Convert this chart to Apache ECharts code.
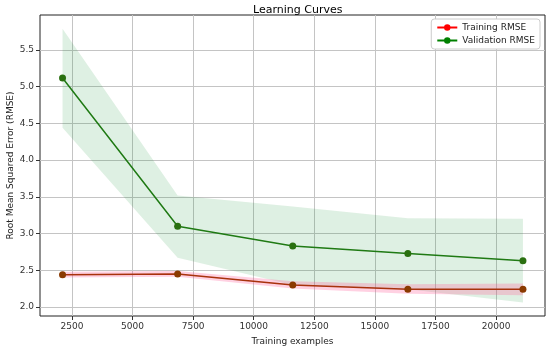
<!DOCTYPE html>
<html><head><meta charset="utf-8">
<script src="https://cdn.jsdelivr.net/npm/echarts@6/dist/echarts.min.js"></script>
<style>html,body{margin:0;padding:0;background:#fff}#c{width:550px;height:349px}</style>
</head><body><div id="c"></div>
<script>
const trainSizes = [2110, 6860, 11610, 16360, 21110];
const trainRMSE = [2.44, 2.45, 2.30, 2.24, 2.24];
const trainLower = [2.40, 2.41, 2.25, 2.18, 2.16];
const trainUpper = [2.48, 2.49, 2.35, 2.31, 2.32];
const valRMSE = [5.12, 3.10, 2.83, 2.73, 2.63];
const valLower = [4.44, 2.67, 2.30, 2.24, 2.06];
const valUpper = [5.79, 3.52, 3.37, 3.21, 3.20];
const xTicks = [2500, 5000, 7500, 10000, 12500, 15000, 17500, 20000];
const yTicks = [2.0, 2.5, 3.0, 3.5, 4.0, 4.5, 5.0, 5.5];

const font = 'DejaVu Sans';
function band(lower, upper, color, name) {
  return {
    type: 'custom', name: name, silent: true, z: 1,
    data: [0],
    renderItem: function (params, api) {
      const pts = [];
      for (let i = 0; i < trainSizes.length; i++) pts.push(api.coord([trainSizes[i], upper[i]]));
      for (let i = trainSizes.length - 1; i >= 0; i--) pts.push(api.coord([trainSizes[i], lower[i]]));
      return { type: 'polygon', shape: { points: pts }, style: { fill: color } };
    }
  };
}
const chart = echarts.init(document.getElementById('c'));
chart.setOption({
  animation: false,
  textStyle: { fontFamily: font },
  title: { text: 'Learning Curves', left: 248, top: 0, textStyle: { fontFamily: font, fontSize: 11, fontWeight: 'normal', color: '#000' } },
  grid: { left: 40, right: 5, top: 15, bottom: 33, outerBoundsMode: 'none', containLabel: false, show: true, borderColor: '#222', borderWidth: 1, backgroundColor: 'transparent' },
  legend: {
    right: 10, top: 19, orient: 'vertical', itemGap: 4, itemWidth: 20, itemHeight: 8,
    backgroundColor: '#fff', borderColor: '#ccc', borderWidth: 1, borderRadius: 3, padding: [4, 5, 4, 5],
    textStyle: { fontFamily: font, fontSize: 9, color: '#222' },
    data: [
      { name: 'Training RMSE', itemStyle: { color: 'red' }, lineStyle: { color: 'red' } },
      { name: 'Validation RMSE', itemStyle: { color: 'green' }, lineStyle: { color: 'green' } }
    ]
  },
  xAxis: {
    type: 'value', min: 1180, max: 22020,
    name: 'Training examples', nameLocation: 'middle', nameGap: 21,
    nameTextStyle: { fontFamily: font, fontSize: 9, color: '#222' },
    axisLine: { show: false },
    axisTick: { show: true, length: 4, lineStyle: { color: '#333' }, customValues: xTicks },
    axisLabel: { fontFamily: font, fontSize: 9, color: '#333', margin: 6, customValues: xTicks, formatter: v => String(v) },
    splitLine: { show: true, lineStyle: { color: '#c4c4c4', width: 1 } }
  },
  yAxis: {
    type: 'value', min: 1.877, max: 5.977,
    name: 'Root Mean Squared Error (RMSE)', nameLocation: 'middle', nameGap: 25, nameMoveOverlap: false,
    nameTextStyle: { fontFamily: font, fontSize: 9, color: '#222' },
    axisLine: { show: false },
    axisTick: { show: true, length: 4, lineStyle: { color: '#333' }, customValues: yTicks },
    axisLabel: { fontFamily: font, fontSize: 9, color: '#333', margin: 6, customValues: yTicks, formatter: v => v.toFixed(1) },
    splitLine: { show: true, lineStyle: { color: '#c4c4c4', width: 1 } }
  },
  series: [
    band(valLower, valUpper, 'rgba(0,140,40,0.13)', 'valBand'),
    band(trainLower, trainUpper, 'rgba(255,90,150,0.28)', 'trainBand'),
    {
      type: 'line', name: 'Training RMSE', z: 3,
      data: trainSizes.map((x, i) => [x, trainRMSE[i]]),
      symbol: 'circle', symbolSize: 7,
      lineStyle: { color: '#a8320c', width: 1.5 },
      itemStyle: { color: '#8a3a00' }
    },
    {
      type: 'line', name: 'Validation RMSE', z: 3,
      data: trainSizes.map((x, i) => [x, valRMSE[i]]),
      symbol: 'circle', symbolSize: 7,
      lineStyle: { color: '#1f7a14', width: 1.5 },
      itemStyle: { color: '#2a7010' }
    }
  ]
});
</script></body></html>
